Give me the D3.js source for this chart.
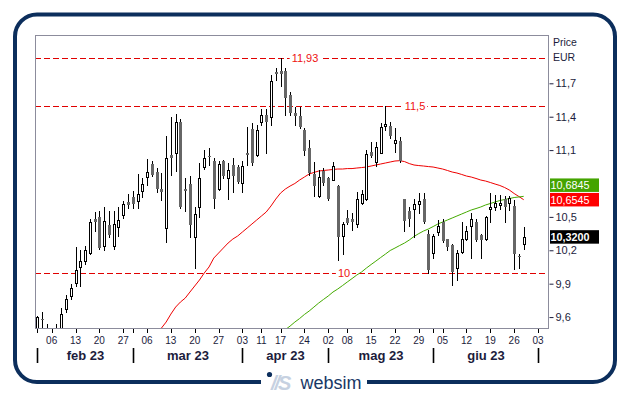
<!DOCTYPE html>
<html><head><meta charset="utf-8">
<script src="https://cdn.jsdelivr.net/npm/d3@7"></script>
<style>
html,body{margin:0;padding:0;background:#fff;}
svg{display:block;font-family:"Liberation Sans",Arial,sans-serif;}
</style></head>
<body>
<svg id="chart" width="629" height="395"></svg>
<script>
// ---------------- DATA ----------------
const firstDay = "2023-02-01";
const lastDay = "2023-07-05";
const holidays = ["2023-04-07", "2023-04-10", "2023-05-01"];

const openP = [9.45,9.58,9.48,9.45,9.45,9.45,9.67,9.79,9.91,10.05,
 10.10,10.18,10.48,10.50,10.24,10.43,10.24,10.41,10.52,10.63,
 10.68,10.645,10.735,10.86,10.975,10.90,10.75,10.40,11.055,11.07,
 11.355,10.75,10.795,10.32,10.59,10.95,11.05,11.00,10.75,11.00,
 10.845,10.965,10.95,10.80,11.07,11.29,11.055,11.35,11.415,11.395,
 11.80,11.81,11.81,11.595,11.435,11.405,11.285,11.115,10.885,10.685,
 10.915,10.845,10.835,10.775,10.33,10.49,10.48,10.44,10.625,10.66,
 11.085,10.995,11.075,11.32,11.315,11.165,11.185,10.66,10.555,10.57,
 10.62,10.665,10.35,10.18,10.365,10.455,10.30,10.245,10.045,10.185,
 10.305,10.415,10.45,10.335,10.305,10.575,10.585,10.61,10.66,10.625,
 10.595,10.15,10.26];
const highP = [9.61,9.65,9.54,9.48,9.54,9.68,9.80,9.90,10.23,10.20,
 10.24,10.48,10.54,10.55,10.59,10.55,10.55,10.59,10.64,10.71,
 10.73,10.885,10.85,11.02,11.005,10.94,10.89,11.23,11.40,11.42,
 11.38,10.85,10.87,10.59,10.98,11.10,11.115,11.03,11.00,11.01,
 10.98,11.03,10.965,11.00,11.31,11.34,11.325,11.465,11.465,11.775,
 11.835,11.93,11.84,11.625,11.49,11.49,11.30,11.19,10.995,10.92,
 10.935,10.855,10.995,10.785,10.455,10.56,10.535,10.725,10.74,11.10,
 11.175,11.175,11.34,11.50,11.355,11.295,11.215,10.665,10.59,10.665,
 10.715,10.715,10.38,10.35,10.47,10.485,10.305,10.26,10.20,10.455,
 10.42,10.535,10.485,10.35,10.505,10.715,10.695,10.695,10.685,10.685,
 10.65,10.165,10.41];
const lowP = [9.40,9.45,9.40,9.35,9.40,9.42,9.645,9.76,9.88,9.88,
 10.08,10.17,10.37,10.21,10.20,10.32,10.21,10.33,10.49,10.58,
 10.58,10.58,10.68,10.79,10.87,10.72,10.65,10.27,10.88,10.91,
 10.58,10.55,10.32,10.04,10.50,10.93,10.965,10.58,10.74,10.85,
 10.66,10.725,10.80,10.725,10.965,10.965,11.05,11.325,11.07,11.325,
 11.73,11.675,11.415,11.415,11.325,11.30,11.055,10.875,10.685,10.68,
 10.785,10.65,10.83,10.11,10.17,10.435,10.38,10.41,10.62,10.65,
 11.04,10.955,11.07,11.28,11.21,11.085,10.995,10.375,10.42,10.315,
 10.535,10.445,10.00,10.135,10.335,10.275,10.20,9.89,9.93,10.175,
 10.29,10.13,10.28,10.13,10.29,10.455,10.56,10.575,10.455,10.56,
 10.03,10.045,10.215];
const closeP = [9.60,9.57,9.47,9.42,9.46,9.63,9.76,9.86,10.02,10.10,
 10.20,10.45,10.45,10.22,10.46,10.34,10.44,10.47,10.62,10.61,
 10.62,10.705,10.795,10.90,10.88,10.75,10.72,11.03,11.03,11.355,
 10.59,10.735,10.43,10.53,10.85,11.03,11.045,10.66,10.975,10.87,
 10.925,10.865,10.815,10.955,11.055,10.98,11.285,11.415,11.355,11.72,
 11.78,11.78,11.565,11.43,11.41,11.305,11.095,10.89,10.775,10.855,
 10.80,10.66,10.955,10.32,10.44,10.445,10.455,10.665,10.71,11.065,
 11.05,11.13,11.31,11.33,11.225,11.195,11.005,10.465,10.48,10.615,
 10.64,10.45,10.02,10.33,10.42,10.285,10.225,10.005,10.18,10.305,
 10.375,10.485,10.29,10.29,10.495,10.59,10.625,10.625,10.585,10.67,
 10.165,10.14,10.32];

// red moving average, starting at candle index 25
const maRedStart = 25;
const maRed = [9.42,9.50,9.555,9.627,9.69,9.735,9.77,9.825,9.879,9.933,
 9.996,10.05,10.13,10.175,10.22,10.265,10.301,10.328,10.364,10.40,
 10.436,10.472,10.508,10.544,10.598,10.66,10.714,10.75,10.777,10.80,
 10.831,10.858,10.885,10.899,10.912,10.917,10.921,10.926,10.93,10.93,
 10.934,10.934,10.939,10.943,10.948,10.957,10.966,10.975,10.984,10.993,
 11.002,11.005,10.997,10.979,10.966,10.961,10.957,10.952,10.948,10.939,
 10.93,10.917,10.903,10.894,10.881,10.867,10.858,10.845,10.831,10.822,
 10.809,10.795,10.782,10.764,10.741,10.71,10.683,10.6545];
// green moving average, starting at candle index 52
const maGreenStart = 52;
const maGreen = [9.487,9.519,9.555,9.587,9.623,9.654,9.69,9.726,9.758,9.789,
 9.825,9.852,9.883,9.915,9.946,9.978,10.005,10.04,10.072,10.103,
 10.135,10.166,10.198,10.22,10.243,10.265,10.292,10.324,10.35,10.373,
 10.391,10.413,10.436,10.454,10.472,10.49,10.508,10.526,10.544,10.562,
 10.575,10.589,10.607,10.62,10.634,10.647,10.656,10.665,10.674,10.679,10.6845];

const levels = [11.93, 11.5, 10];
const levelLabels = ["11,93", "11,5", "10"];
const yTicks = [9.6, 9.9, 10.2, 10.5, 11.1, 11.4, 11.7];
const weekTicks = ["2023-02-06","2023-02-13","2023-02-20","2023-02-27",
 "2023-03-06","2023-03-13","2023-03-20","2023-03-27",
 "2023-04-03","2023-04-11","2023-04-17","2023-04-24",
 "2023-05-02","2023-05-08","2023-05-15","2023-05-22","2023-05-29",
 "2023-06-05","2023-06-12","2023-06-19","2023-06-26","2023-07-03"];
const monthStarts = ["2023-02-01","2023-03-01","2023-04-03","2023-05-02","2023-06-01","2023-07-03"];
const monthLabels = ["feb 23","mar 23","apr 23","mag 23","giu 23"];
const lastValues = [10.6845, 10.6545, 10.32];
const lastColors = ["#44a400", "#ff0000", "#000000"];

// ---------------- LAYOUT ----------------
const P = {left: 35, right: 548, top: 35, bottom: 328};
const levelLabelX = [305, 415, 344];
const navy = "#0c2e5c";
const txt = "#1c1c3c";

const fmtDay = d3.timeFormat("%Y-%m-%d");
const parse = d3.timeParse("%Y-%m-%d");
const days = d3.timeDay.range(parse(firstDay), d3.timeDay.offset(parse(lastDay), 1))
  .filter(d => d.getDay() !== 0 && d.getDay() !== 6 && !holidays.includes(fmtDay(d)));
const dayIndex = new Map(days.map((d, i) => [fmtDay(d), i]));

const xs = d3.scaleLinear().domain([-0.5, 107.1]).range([P.left, P.right]);
const ys = d3.scaleLinear().domain([9.5, 12.134]).range([P.bottom + 0.2, P.top]);
const cx = i => Math.round(xs(i)) + 0.5;

const svg = d3.select("#chart");

// outer frame
svg.append("rect").attr("x", 15).attr("y", 14.5).attr("width", 600).attr("height", 367.5)
  .attr("rx", 22).attr("fill", "#fff").attr("stroke", navy).attr("stroke-width", 4);

// clip
svg.append("clipPath").attr("id", "clip").append("rect")
  .attr("x", P.left).attr("y", P.top).attr("width", P.right - P.left).attr("height", P.bottom - P.top);

const plot = svg.append("g").attr("clip-path", "url(#clip)");

// level lines
levels.forEach((lv, k) => {
  const y = Math.round(ys(lv)) + 0.5;
  plot.append("line").attr("x1", P.left).attr("x2", P.right).attr("y1", y).attr("y2", y)
    .attr("stroke", "#e00000").attr("stroke-width", 1.2).attr("stroke-dasharray", "6,3");
});

// moving averages
const lineRed = d3.line().x((d, i) => xs(maRedStart + i)).y(d => ys(d));
const lineGreen = d3.line().x((d, i) => xs(maGreenStart + i)).y(d => ys(d));
plot.append("path").attr("d", lineRed(maRed)).attr("fill", "none").attr("stroke", "#ee0000").attr("stroke-width", 1);
plot.append("path").attr("d", lineGreen(maGreen)).attr("fill", "none").attr("stroke", "#44aa00").attr("stroke-width", 1);

// candles
const idx = d3.range(openP.length);
plot.selectAll("line.wick").data(idx).join("line").attr("class", "wick")
  .attr("x1", cx).attr("x2", cx)
  .attr("y1", i => Math.round(ys(highP[i]))).attr("y2", i => Math.round(ys(lowP[i])) + 1)
  .attr("stroke", "#000").attr("stroke-width", 1);
plot.selectAll("rect.body").data(idx).join("rect").attr("class", "body")
  .each(function(i) {
    const up = closeP[i] >= openP[i];
    const yt = Math.round(ys(Math.max(openP[i], closeP[i])));
    const yb = Math.round(ys(Math.min(openP[i], closeP[i])));
    const s = d3.select(this);
    if (up) {
      s.attr("x", cx(i) - 1).attr("y", yt + 0.5).attr("width", 2).attr("height", Math.max(0, yb - yt))
        .attr("fill", "#fff").attr("stroke", "#000").attr("stroke-width", 1);
    } else {
      s.attr("x", cx(i) - 1.5).attr("y", yt).attr("width", 3).attr("height", Math.max(1, yb - yt))
        .attr("fill", "#666666");
    }
  });

// level labels
levels.forEach((lv, k) => {
  const y = ys(lv);
  const t = svg.append("text").attr("x", levelLabelX[k]).attr("y", y + 4)
    .attr("text-anchor", "middle").attr("font-size", 11).attr("fill", "#ee1111").text(levelLabels[k]);
  const bb = t.node().getBBox();
  svg.insert("rect", () => t.node()).attr("x", bb.x - 2).attr("y", y - 4).attr("width", bb.width + 4)
    .attr("height", 8).attr("fill", "#fff");
});

// plot border
svg.append("rect").attr("x", P.left + 0.5).attr("y", P.top + 0.5)
  .attr("width", P.right - P.left).attr("height", P.bottom - P.top)
  .attr("fill", "none").attr("stroke", "#8c8c9c").attr("stroke-width", 1);

// right axis
const yAxis = d3.axisRight(ys).tickValues(yTicks).tickSize(4).tickPadding(2)
  .tickFormat(d => d3.format(".1f")(d).replace(".", ","));
const ya = svg.append("g").attr("transform", `translate(${P.right + 1.5},0)`).call(yAxis);
ya.select(".domain").remove();
ya.selectAll("line").attr("stroke", txt);
ya.selectAll("text").attr("fill", txt).attr("font-size", 11).attr("font-family", "Liberation Sans, Arial, sans-serif");

svg.append("text").attr("x", 553).attr("y", 46).attr("font-size", 10.5).attr("fill", txt).text("Price");
svg.append("text").attr("x", 553).attr("y", 61).attr("font-size", 10.5).attr("fill", txt).text("EUR");

// last value boxes (push apart to avoid overlap)
const boxH = 13.5;
const order = d3.range(lastValues.length).sort((a, b) => ys(lastValues[b]) - ys(lastValues[a]));
const centers = {};
let prev = Infinity;
order.forEach(k => {
  let c = ys(lastValues[k]);
  if (c > prev - boxH - 1) c = prev - boxH - 1;
  centers[k] = c; prev = c;
});
lastValues.forEach((v, k) => {
  const c = centers[k];
  svg.append("rect").attr("x", 550).attr("y", c - boxH / 2).attr("width", 49).attr("height", boxH)
    .attr("fill", lastColors[k]);
  svg.append("text").attr("x", 550.5).attr("y", c + 4).attr("font-size", 10.8)
    .attr("font-weight", k === 2 ? "bold" : "normal")
    .attr("fill", "#fff").text(d3.format(".4f")(v).replace(".", ","));
});

// bottom axis
const tickIdx = Array.from(new Set([...weekTicks, ...monthStarts])).map(d => dayIndex.get(d));
svg.selectAll("line.xt").data(tickIdx).join("line").attr("class", "xt")
  .attr("x1", cx).attr("x2", cx).attr("y1", P.bottom + 1).attr("y2", P.bottom + 5)
  .attr("stroke", "#000");
svg.selectAll("text.xl").data(weekTicks).join("text").attr("class", "xl")
  .attr("x", d => xs(dayIndex.get(d))).attr("y", 344).attr("text-anchor", "middle")
  .attr("font-size", 10).attr("fill", txt).text(d => d.slice(8, 10));

const msx = monthStarts.map(d => Math.round(xs(dayIndex.get(d))) + 0.5);
svg.selectAll("line.ms").data(msx).join("line").attr("class", "ms")
  .attr("x1", d => d).attr("x2", d => d).attr("y1", 348).attr("y2", 363)
  .attr("stroke", "#000").attr("stroke-width", 1.6);
svg.selectAll("text.ml").data(monthLabels).join("text").attr("class", "ml")
  .attr("x", (d, i) => (msx[i] + msx[i + 1]) / 2).attr("y", 359.5).attr("text-anchor", "middle")
  .attr("font-size", 13).attr("font-weight", "bold").attr("fill", txt).text(d => d);

// logo on bottom frame
svg.append("rect").attr("x", 261).attr("y", 376).attr("width", 106).attr("height", 12).attr("fill", "#fff");
svg.append("circle").attr("cx", 269.5).attr("cy", 374.5).attr("r", 2.6).attr("fill", navy);
svg.append("text").attr("x", 271).attr("y", 390).attr("font-size", 20).attr("font-weight", "bold")
  .attr("font-style", "italic").attr("fill", "#c6d1e1").attr("letter-spacing", -2).text("//S");
svg.append("text").attr("x", 300.5).attr("y", 388.5).attr("font-size", 18).attr("fill", "#183766").text("websim");
</script>
</body></html>
